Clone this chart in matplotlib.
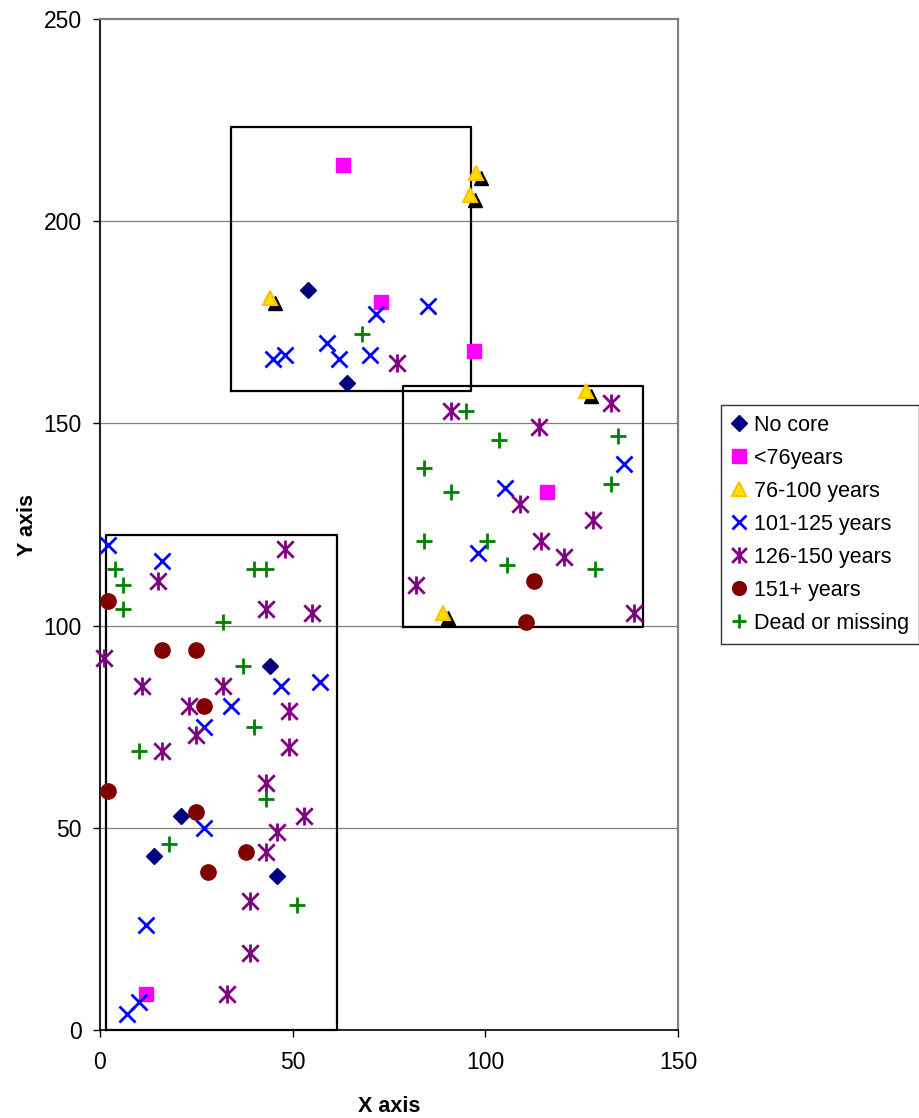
import numpy as np
import matplotlib
matplotlib.use("Agg")
import matplotlib.pyplot as plt
from matplotlib.path import Path
from matplotlib.transforms import offset_copy

plt.rcParams["font.family"] = ["Liberation Sans", "DejaVu Sans"]

# Data
no_core_x = [54, 64, 44, 21, 14, 46]
no_core_y = [183, 160, 90, 53, 43, 38]

lt76_x = [63, 73, 97, 116, 12]
lt76_y = [214, 180, 168, 133, 9]

y76_100_x = [44, 97.5, 96, 126, 89]
y76_100_y = [181, 212, 206.5, 158, 103]

y101_125_x = [71.5, 85, 59, 62, 70, 45, 48, 136, 105, 98, 2, 16, 47, 57, 34, 27, 27, 12, 10, 7]
y101_125_y = [177, 179, 170, 166, 167, 166, 167, 140, 134, 118, 120, 116, 85, 86, 80, 75, 50, 26, 7, 4]

y126_150_x = [77, 91, 132.5, 114, 109, 128, 114.5, 120.5, 82, 138.5,
              48, 15, 43, 55, 1, 11, 32, 23, 49, 25, 16, 49,
              43, 53, 46, 43, 39, 39, 33]
y126_150_y = [165, 153, 155, 149, 130, 126, 121, 117, 110, 103,
              119, 111, 104, 103, 92, 85, 85, 80, 79, 73, 69, 70,
              61, 53, 49, 44, 32, 19, 9]

y151_x = [2, 16, 25, 27, 2, 25, 38, 28, 112.5, 110.5]
y151_y = [106, 94, 94, 80, 59, 54, 44, 39, 111, 101]

dead_x = [68, 95, 103.5, 134.5, 84, 91, 132.5, 84, 100.5, 105.5, 128.5,
          4, 6, 6, 40, 43, 32, 37, 40, 10, 43, 18, 51]
dead_y = [172, 153, 146, 147, 139, 133, 135, 121, 121, 115, 114,
          114, 110, 104, 114, 114, 101, 90, 75, 69, 57, 46, 31]

# plot boxes (x0, x1, y0, y1)
boxes = [(34.1, 96.2, 158.1, 223.3),
         (78.6, 140.8, 99.6, 159.3),
         (1.5, 61.4, 0, 122.5)]

# asterisk marker like excel: X plus vertical bar
star_path = Path(
    [(-1, -1), (1, 1), (-1, 1), (1, -1), (0, -1.1), (0, 1.1)],
    [Path.MOVETO, Path.LINETO, Path.MOVETO, Path.LINETO, Path.MOVETO, Path.LINETO],
)

fig = plt.figure(figsize=(9.19, 11.18), dpi=100)
ax = fig.add_axes([100 / 919, 1 - 1030 / 1118, 578 / 919, 1011 / 1118])

for y in [50, 100, 150, 200]:
    ax.axhline(y, color="#808080", lw=0.9, zorder=0)

for x0, x1, y0, y1 in boxes:
    ax.plot([x0, x1, x1, x0, x0], [y0, y0, y1, y1, y0], color="black", lw=1.6,
            zorder=2, clip_on=False)

ax.plot(no_core_x, no_core_y, ls="", marker="D", ms=8.5, color="#000080",
        label="No core", zorder=3, clip_on=False)
ax.plot(lt76_x, lt76_y, ls="", marker="s", ms=10.5, color="#FF00FF",
        label="<76years", zorder=3, clip_on=False)
shadow = offset_copy(ax.transData, fig=fig, x=5, y=-5, units="dots")
ax.plot(y76_100_x, y76_100_y, ls="", marker="^", ms=10.5, color="black",
        transform=shadow, zorder=3, clip_on=False)
ax.plot(y76_100_x, y76_100_y, ls="", marker="^", ms=10.5, mfc="#FFE000",
        mec="#FFC000", mew=1.5, label="76-100 years", zorder=3, clip_on=False)
ax.plot(y101_125_x, y101_125_y, ls="", marker="x", ms=11, mew=2, color="#0000FF",
        label="101-125 years", zorder=3, clip_on=False)
ax.plot(y126_150_x, y126_150_y, ls="", marker=star_path, ms=13, mew=2, mfc="none",
        color="#800080", label="126-150 years", zorder=3, clip_on=False)
ax.plot(y151_x, y151_y, ls="", marker="o", ms=11, color="#800000",
        label="151+ years", zorder=3, clip_on=False)
ax.plot(dead_x, dead_y, ls="", marker="+", ms=11.5, mew=2, color="#008000",
        label="Dead or missing", zorder=3, clip_on=False)

ax.set_xlim(0, 150)
ax.set_ylim(0, 250)
ax.set_xticks([0, 50, 100, 150])
ax.set_yticks([0, 50, 100, 150, 200, 250])
ax.tick_params(axis="both", direction="out", length=5, width=1, labelsize=16.5,
               color="black")
ax.tick_params(axis="y", pad=8)
ax.tick_params(axis="x", pad=10)

ax.spines["left"].set_color("#202020")
ax.spines["left"].set_linewidth(1.5)
ax.spines["bottom"].set_color("black")
ax.spines["bottom"].set_linewidth(1.2)
for s in ["top", "right"]:
    ax.spines[s].set_color("#808080")
    ax.spines[s].set_linewidth(1.6)

ax.set_xlabel("X axis", fontsize=15.5, fontweight="bold", labelpad=16)
ax.set_ylabel("Y axis", fontsize=15.5, fontweight="bold", labelpad=4)

leg = fig.legend(loc="upper left", bbox_to_anchor=(721 / 919, 1 - 405 / 1118),
                 fontsize=15.5, frameon=True, fancybox=False, edgecolor="black",
                 handlelength=0.8, handletextpad=0.3, labelspacing=0.56,
                 borderpad=0.45, borderaxespad=0, markerscale=0.9)
leg.get_frame().set_linewidth(1.0)

fig.savefig("out.png", dpi=100)
